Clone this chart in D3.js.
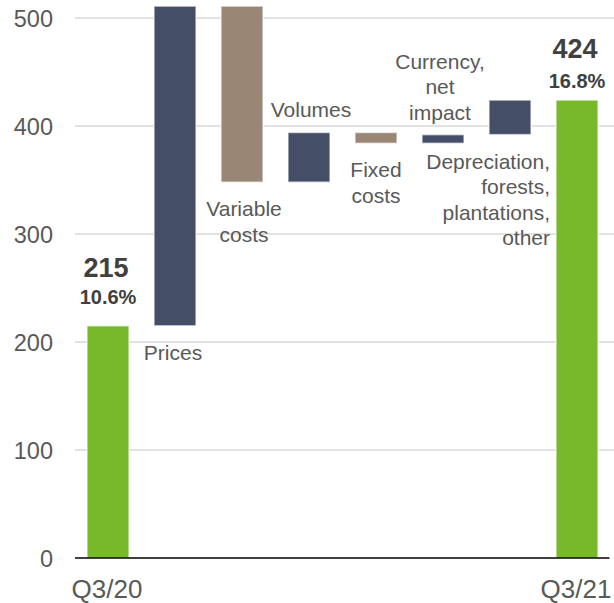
<!DOCTYPE html>
<html>
<head>
<meta charset="utf-8">
<script src="https://cdn.jsdelivr.net/npm/d3@7/dist/d3.min.js"></script>
<style>
  html, body { margin: 0; padding: 0; background: #fff; }
  svg { display: block; font-family: "Liberation Sans", Arial, sans-serif; }
</style>
</head>
<body>
<svg id="chart" width="614" height="603"></svg>
<script>
// EBIT bridge, Q3/20 -> Q3/21 (EUR million)
const categories = ["Q3/20", "Prices", "Variable costs", "Volumes", "Fixed costs",
  "Currency, net impact", "Depreciation, forests, plantations, other", "Q3/21"];
const kinds = ["total", "up", "down", "up", "down", "up", "up", "total"];
const values = [215, 296, -163, 46, -10, 8, 32, 424];
const margins = ["10.6%", "", "", "", "", "", "", "16.8%"];
const axisLabels = ["Q3/20", "", "", "", "", "", "", "Q3/21"];
const labelLines = [
  [], ["Prices"], ["Variable", "costs"], ["Volumes"], ["Fixed", "costs"],
  ["Currency,", "net", "impact"], ["Depreciation,", "forests,", "plantations,", "other"], []
];
const yTicks = [0, 100, 200, 300, 400, 500];

// running start/end of each bar
let run = 0;
const bars = categories.map((c, i) => {
  let y0, y1;
  if (kinds[i] === "total") { y0 = 0; y1 = values[i]; run = values[i]; }
  else { y0 = run; y1 = run + values[i]; run = y1; }
  return { cat: c, kind: kinds[i], v: values[i], lo: Math.min(y0, y1), hi: Math.max(y0, y1), i };
});

const colors = { total: "#78b82b", up: "#444f67", down: "#998674" };

const svg = d3.select("#chart");
const x = d3.scaleBand().domain(categories).range([74.5, 610.5])
  .paddingInner(0.373).paddingOuter(0.1865);
const y = d3.scaleLinear().domain([0, 500]).range([558, 18]);

// gridlines
svg.append("g").selectAll("line").data(yTicks.filter(t => t > 0)).join("line")
  .attr("x1", 75).attr("x2", 614)
  .attr("y1", d => y(d)).attr("y2", d => y(d))
  .attr("stroke", "#c6c6c6").attr("stroke-width", 1);

// y-axis tick labels
svg.append("g").selectAll("text").data(yTicks).join("text")
  .attr("x", 53).attr("y", d => y(d) + 8.5)
  .attr("text-anchor", "end")
  .attr("font-size", 23.5).attr("fill", "#595959")
  .text(d => d);

// bars
svg.append("g").selectAll("rect").data(bars).join("rect")
  .attr("x", d => x(d.cat)).attr("width", x.bandwidth())
  .attr("y", d => y(d.hi)).attr("height", d => y(d.lo) - y(d.hi))
  .attr("fill", d => colors[d.kind])
  .attr("stroke", "#ffffff").attr("stroke-opacity", 0.6).attr("stroke-width", 1.5);

// baseline
svg.append("line").attr("x1", 75).attr("x2", 609.5)
  .attr("y1", y(0)).attr("y2", y(0)).attr("stroke", "#000").attr("stroke-width", 1.3);

// x-axis labels
svg.append("g").selectAll("text").data(bars.filter(d => axisLabels[d.i])).join("text")
  .attr("x", d => x(d.cat) + x.bandwidth() / 2 - 1)
  .attr("y", 598)
  .attr("text-anchor", "middle")
  .attr("font-size", 26).attr("fill", "#595959")
  .text(d => axisLabels[d.i]);

// totals: value and margin above the bar
const totalGap = { 0: [49, 22], 7: [42.5, 12.5] };
const totals = bars.filter(d => d.kind === "total");
const tg = svg.append("g").selectAll("g").data(totals).join("g");
tg.append("text")
  .attr("x", d => x(d.cat) + x.bandwidth() / 2 - 2)
  .attr("y", d => y(d.hi) - totalGap[d.i][0])
  .attr("text-anchor", "middle").attr("font-weight", "bold")
  .attr("font-size", 27).attr("fill", "#404040")
  .text(d => d.v);
tg.append("text")
  .attr("x", d => x(d.cat) + x.bandwidth() / 2)
  .attr("y", d => y(d.hi) - totalGap[d.i][1])
  .attr("text-anchor", "middle").attr("font-weight", "bold")
  .attr("font-size", 20).attr("fill", "#404040")
  .text(d => margins[d.i]);

// step labels: below the bar for decreases and large increases, above for small ones
const labelPlace = {
  1: { side: "below", dx: -2, anchor: "middle" },
  2: { side: "below", dx: 2, anchor: "middle" },
  3: { side: "above", dx: 2, anchor: "middle" },
  4: { side: "below", dx: 0, anchor: "middle" },
  5: { side: "above", dx: -3, anchor: "middle" },
  6: { side: "below", dx: 40, anchor: "end" }
};
const lineH = 25.5;
bars.filter(d => labelLines[d.i].length).forEach(d => {
  const p = labelPlace[d.i];
  const lines = labelLines[d.i];
  const cx = x(d.cat) + x.bandwidth() / 2 + p.dx;
  const first = p.side === "below"
    ? y(d.lo) + 34
    : y(d.hi) - 15 - (lines.length - 1) * lineH;
  const t = svg.append("text")
    .attr("x", cx).attr("y", first)
    .attr("text-anchor", p.anchor)
    .attr("font-size", 21).attr("fill", "#595959");
  lines.forEach((ln, k) => {
    t.append("tspan").attr("x", cx).attr("y", first + k * lineH).text(ln);
  });
});
</script>
</body>
</html>
